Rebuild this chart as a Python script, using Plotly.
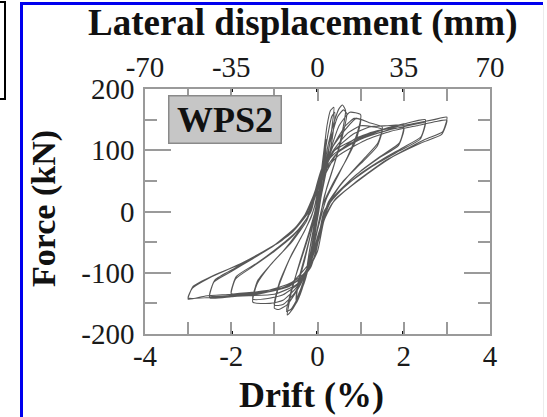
import plotly.graph_objects as go

# ---- data: hysteresis loops (drift %, force kN) ----
cyc_025a_x = [0.0, 0.08, 0.15, 0.2, 0.16, 0.08, 0.0, -0.1, -0.2, -0.25, -0.2, -0.1, 0.0]
cyc_025a_y = [0, 55, 100, 118, 80, 35, -10, -55, -90, -100, -70, -30, 10]
cyc_025b_x = [0.08, 0.15, 0.2, 0.15, 0.05, -0.08, -0.2, -0.25, -0.18, -0.05]
cyc_025b_y = [50, 92, 110, 72, 20, -35, -82, -96, -62, -15]
cyc_050a_x = [0.08, 0.15, 0.22, 0.3, 0.38, 0.34, 0.26, 0.15, 0.03, -0.1, -0.25, -0.4, -0.5, -0.45, -0.3, -0.15, 0.0]
cyc_050a_y = [60, 100, 140, 165, 170, 140, 100, 55, 0, -50, -100, -135, -150, -120, -80, -35, 10]
cyc_050b_x = [0.12, 0.24, 0.33, 0.4, 0.36, 0.25, 0.1, -0.05, -0.2, -0.38, -0.5, -0.44, -0.28, -0.1]
cyc_050b_y = [70, 125, 155, 162, 128, 82, 30, -25, -80, -125, -144, -112, -70, -20]
cyc_075a_x = [0.12, 0.25, 0.38, 0.5, 0.58, 0.65, 0.56, 0.4, 0.22, 0.05, -0.1, -0.3, -0.5, -0.65, -0.7, -0.6, -0.4, -0.2, 0.0]
cyc_075a_y = [60, 110, 145, 168, 174, 165, 125, 80, 40, -10, -60, -115, -150, -166, -169, -130, -80, -35, 15]
cyc_075b_x = [0.12, 0.3, 0.47, 0.6, 0.68, 0.56, 0.36, 0.16, 0.0, -0.2, -0.45, -0.62, -0.72, -0.58, -0.35, -0.12]
cyc_075b_y = [55, 115, 155, 166, 160, 118, 70, 25, -30, -90, -140, -160, -163, -122, -72, -20]
cyc_100a_x = [0.1, 0.3, 0.5, 0.75, 1.0, 0.92, 0.7, 0.45, 0.2, 0.0, -0.15, -0.4, -0.7, -0.9, -1.0, -0.9, -0.65, -0.4, -0.15, 0.0]
cyc_100a_y = [55, 100, 140, 162, 158, 128, 90, 55, 20, -30, -75, -120, -152, -160, -158, -122, -78, -45, -10, 25]
cyc_100b_x = [0.1, 0.35, 0.65, 0.85, 1.0, 0.9, 0.65, 0.35, 0.12, -0.05, -0.25, -0.55, -0.8, -1.0, -0.88, -0.6, -0.3, -0.08]
cyc_100b_y = [50, 105, 140, 152, 150, 118, 82, 45, 10, -45, -95, -135, -152, -153, -115, -70, -32, 5]
cyc_150a_x = [0.1, 0.3, 0.6, 0.9, 1.2, 1.5, 1.4, 1.1, 0.8, 0.5, 0.2, 0.0, -0.2, -0.5, -0.8, -1.1, -1.5, -1.4, -1.1, -0.8, -0.5, -0.2, 0.0]
cyc_150a_y = [65, 100, 130, 152, 145, 138, 112, 88, 65, 40, 5, -45, -90, -125, -145, -150, -148, -118, -88, -65, -38, -5, 35]
cyc_150b_x = [0.1, 0.35, 0.7, 1.0, 1.3, 1.5, 1.38, 1.0, 0.6, 0.25, 0.05, -0.15, -0.45, -0.8, -1.15, -1.5, -1.38, -1.0, -0.6, -0.25, -0.05]
cyc_150b_y = [55, 98, 128, 140, 138, 134, 106, 78, 50, 15, -30, -80, -118, -136, -142, -143, -112, -80, -50, -15, 25]
cyc_200a_x = [0.1, 0.4, 0.8, 1.2, 1.6, 2.0, 1.9, 1.5, 1.0, 0.6, 0.25, 0.05, -0.15, -0.5, -1.0, -1.5, -2.0, -1.9, -1.5, -1.0, -0.6, -0.25, -0.05]
cyc_200a_y = [60, 100, 125, 138, 140, 141, 112, 92, 66, 40, 10, -40, -90, -120, -135, -137, -137, -110, -90, -65, -42, -12, 30]
cyc_200b_x = [0.1, 0.45, 0.9, 1.4, 2.0, 1.88, 1.4, 0.9, 0.45, 0.15, 0.0, -0.25, -0.65, -1.2, -2.0, -1.88, -1.4, -0.9, -0.45, -0.15]
cyc_200b_y = [50, 95, 120, 132, 136, 108, 86, 60, 30, 0, -50, -98, -122, -132, -134, -106, -84, -58, -30, 0]
cyc_250a_x = [0.1, 0.4, 1.0, 1.5, 2.0, 2.5, 2.4, 2.0, 1.5, 1.0, 0.5, 0.15, 0.0, -0.3, -0.8, -1.5, -2.0, -2.5, -2.4, -2.0, -1.5, -1.0, -0.5, -0.15, 0.0]
cyc_250a_y = [70, 100, 122, 134, 143, 150, 122, 105, 85, 62, 32, 0, -50, -100, -125, -136, -139, -141, -115, -98, -77, -55, -25, 10, 40]
cyc_250b_x = [0.1, 0.45, 1.0, 1.6, 2.1, 2.5, 2.38, 1.9, 1.3, 0.7, 0.3, 0.05, -0.2, -0.6, -1.2, -1.9, -2.5, -2.38, -1.9, -1.2, -0.6, -0.2]
cyc_250b_y = [60, 95, 118, 132, 140, 145, 118, 99, 75, 45, 15, -30, -85, -116, -130, -136, -138, -112, -92, -64, -35, 0]
cyc_300a_x = [0.1, 0.4, 1.0, 1.6, 2.2, 2.7, 3.0, 2.9, 2.5, 1.73, 0.96, 0.4, 0.15, 0.0, -0.3, -0.7, -1.2, -1.8, -2.4, -3.0, -2.9, -2.5, -1.75, -0.82, -0.36, -0.1, 0.05]
cyc_300a_y = [70, 95, 120, 135, 143, 150, 154, 130, 118, 89, 51, 19, -15, -65, -105, -123, -132, -137, -140, -141, -125, -108, -84, -47, -14, 25, 55]
cyc_300b_x = [0.15, 0.5, 1.1, 1.7, 2.3, 2.75, 3.0, 2.88, 2.4, 1.6, 0.85, 0.35, 0.1, -0.05, -0.35, -0.8, -1.4, -2.0, -2.6, -3.0, -2.88, -2.4, -1.6, -0.8, -0.3, -0.05]
cyc_300b_y = [65, 92, 116, 131, 140, 147, 149, 126, 112, 84, 46, 14, -20, -70, -108, -124, -131, -135, -138, -143, -122, -104, -80, -45, -10, 30]

drift_ticks = [-4, -2, 0, 2, 4]
drift_labels = ["-4", "-2", "0", "2", "4"]
disp_labels = ["-70", "-35", "0", "35", "70"]
force_ticks = [-200, -100, 0, 100, 200]
force_labels = ["-200", "-100", "0", "100", "200"]

cycles = [
    (cyc_025a_x, cyc_025a_y), (cyc_025b_x, cyc_025b_y),
    (cyc_050a_x, cyc_050a_y), (cyc_050b_x, cyc_050b_y),
    (cyc_075a_x, cyc_075a_y), (cyc_075b_x, cyc_075b_y),
    (cyc_100a_x, cyc_100a_y), (cyc_100b_x, cyc_100b_y),
    (cyc_150a_x, cyc_150a_y), (cyc_150b_x, cyc_150b_y),
    (cyc_200a_x, cyc_200a_y), (cyc_200b_x, cyc_200b_y),
    (cyc_250a_x, cyc_250a_y), (cyc_250b_x, cyc_250b_y),
    (cyc_300a_x, cyc_300a_y), (cyc_300b_x, cyc_300b_y),
]
all_x, all_y = [], []
for cx, cy in cycles:
    all_x += cx
    all_y += cy

W, H = 547, 417
SERIF = "Liberation Serif, Times New Roman, serif"
GRAY = "#9a9a9a"
INK = "#1a1a1a"
TICKSIZE = 29

fig = go.Figure()
fig.add_trace(go.Scatter(x=all_x, y=all_y, mode="lines",
                         line=dict(color="#2e2e2e", width=1.1, shape="spline", smoothing=0.5),
                         opacity=0.8, showlegend=False, hoverinfo="skip"))
# empty traces to activate the overlay axes
fig.add_trace(go.Scatter(x=[], y=[], xaxis="x2", showlegend=False))
fig.add_trace(go.Scatter(x=[], y=[], xaxis="x3", showlegend=False))

xdom = [145 / W, 490 / W]
ydom = [1 - 334 / H, 1 - 89 / H]

fig.update_layout(
    width=W, height=H,
    margin=dict(l=0, r=0, t=0, b=0, autoexpand=False),
    paper_bgcolor="white", plot_bgcolor="white",
    showlegend=False,
    xaxis=dict(domain=xdom, range=[-4, 4], tickvals=drift_ticks, ticktext=drift_labels,
               ticks="inside", ticklen=3, tickwidth=3, tickcolor="#111",
               showline=True, linecolor=GRAY, linewidth=1.5, mirror=False,
               showgrid=False, zeroline=False, ticklabelstandoff=-5, automargin=False,
               tickfont=dict(family=SERIF, size=TICKSIZE, color=INK), anchor="y"),
    xaxis3=dict(domain=xdom, range=[-4, 4], dtick=1, tick0=0, overlaying="x", side="bottom",
                ticks="inside", ticklen=12, tickwidth=1.5, tickcolor=GRAY,
                showline=True, linecolor=GRAY, linewidth=1.5, mirror="ticks", automargin=False,
                showticklabels=False, showgrid=False, zeroline=False, anchor="y"),
    xaxis2=dict(domain=xdom, range=[-4, 4], tickvals=drift_ticks, ticktext=disp_labels,
                overlaying="x", side="top", anchor="y", automargin=False,
                ticks="inside", ticklen=3, tickwidth=3, tickcolor="#111",
                showline=False, showgrid=False, zeroline=False, ticklabelstandoff=5,
                tickfont=dict(family=SERIF, size=TICKSIZE, color=INK)),
    yaxis=dict(domain=ydom, range=[-200, 200], tickvals=force_ticks, ticktext=force_labels,
               ticks="inside", ticklen=26, tickwidth=1.5, tickcolor=GRAY,
               minor=dict(dtick=50, tick0=0, ticks="inside", ticklen=12, tickwidth=1.5, tickcolor=GRAY),
               showline=True, linecolor=GRAY, linewidth=1.5, mirror="ticks", automargin=False,
               showgrid=False, zeroline=False, ticklabelstandoff=3,
               tickfont=dict(family=SERIF, size=TICKSIZE, color=INK)),
)

fig.add_annotation(text="<b>WPS2</b>", xref="x", yref="y", x=-2.15, y=151,
                   showarrow=False, width=111, height=46,
                   bgcolor="#c6c6c6", bordercolor="#8a8a8a", borderwidth=1.5, borderpad=0,
                   font=dict(family=SERIF, size=36, color="#111"))
fig.add_annotation(text="<b>Lateral displacement (mm)</b>", xref="paper", yref="paper",
                   x=303 / W, y=1 - 23 / H, showarrow=False, xanchor="center", yanchor="middle",
                   font=dict(family=SERIF, size=37, color="#111"))
fig.add_annotation(text="<b>Drift (%)</b>", xref="paper", yref="paper",
                   x=311 / W, y=1 - 395 / H, showarrow=False, xanchor="center", yanchor="middle",
                   font=dict(family=SERIF, size=36, color="#111"))
fig.add_annotation(text="<b>Force (kN)</b>", xref="paper", yref="paper",
                   x=44 / W, y=1 - 209 / H, showarrow=False, textangle=-90,
                   xanchor="center", yanchor="middle",
                   font=dict(family=SERIF, size=34, color="#111"))

# page decorations: blue frame and small box at top-left
fig.add_shape(type="line", xref="paper", yref="paper", x0=21.5 / W, x1=21.5 / W, y0=0, y1=1 - 2 / H,
              line=dict(color="#0000ee", width=3))
fig.add_shape(type="line", xref="paper", yref="paper", x0=20 / W, x1=543 / W, y0=1 - 3.5 / H, y1=1 - 3.5 / H,
              line=dict(color="#0000ee", width=3))
fig.add_shape(type="line", xref="paper", yref="paper", x0=543.5 / W, x1=543.5 / W, y0=0, y1=1 - 5 / H,
              line=dict(color="#ececec", width=1))
fig.add_shape(type="rect", xref="paper", yref="paper", x0=-3 / W, x1=5 / W, y0=1 - 99 / H, y1=1 - 2 / H,
              line=dict(color="black", width=2))

fig.write_html("out.html")
